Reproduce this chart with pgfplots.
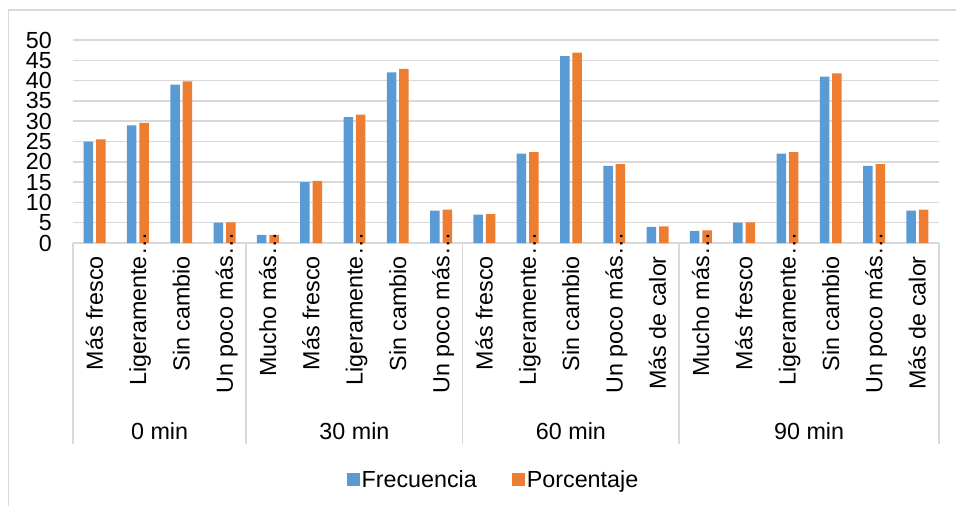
\documentclass[border=0pt]{standalone}
\usepackage{fontspec}
\setmainfont{Liberation Sans}
\usepackage{pgfplots}
\pgfplotsset{compat=1.18}

\definecolor{frec}{HTML}{5B9BD5}
\definecolor{porc}{HTML}{ED7D31}
\definecolor{gridgray}{HTML}{D9D9D9}
\newcommand{\chartfont}{\fontsize{23.3bp}{28bp}\selectfont}

\begin{document}
\begin{tikzpicture}
% page frame of the chart
\useasboundingbox (-73bp,-263bp) rectangle (883bp,243bp);
\draw[gridgray, line width=1.5bp] (-64.5bp,-280bp) -- (-64.5bp,233bp) -- (900bp,233bp);

\begin{axis}[
  at={(0,0)}, anchor=south west,
  scale only axis, width=866bp, height=203bp,
  xmin=-0.5, xmax=19.5, ymin=0, ymax=50,
  clip=false,
  ybar,
  bar width=9.5bp,
  axis line style={draw=none},
  major tick length=0pt,
  ytick={0,5,...,50},
  ymajorgrids,
  grid style={gridgray, line width=1.5bp},
  /pgf/number format/assume math mode=true,
  tick label style={font=\chartfont},
  yticklabel style={inner sep=0pt, xshift=-21bp, text height=16bp, text depth=0pt},
  xtick={0,...,19},
  xticklabels={
    Más fresco, Ligeramente, Sin cambio, Un poco más,
    Mucho más, Más fresco, Ligeramente, Sin cambio, Un poco más,
    Más fresco, Ligeramente, Sin cambio, Un poco más, Más de calor,
    Mucho más, Más fresco, Ligeramente, Sin cambio, Un poco más, Más de calor},
  xticklabel style={yshift=-13bp, rotate=90, anchor=east, inner sep=0pt,
    text height=16.5bp, text depth=0pt},
  legend columns=2,
  legend image code/.code={\fill[#1, draw=none] (0bp,-6.5bp) rectangle (13bp,6.5bp);},
  legend style={at={(axis description cs:0.4855,-1.167)}, anchor=center,
    draw=none, fill=none, font=\chartfont,
    /tikz/every even column/.append style={column sep=33bp}},
]
% Frecuencia
\addplot[fill=frec, draw=none, bar shift=-6.2bp] coordinates {
  (0,25) (1,29) (2,39) (3,5)
  (4,2) (5,15) (6,31) (7,42) (8,8)
  (9,7) (10,22) (11,46) (12,19) (13,4)
  (14,3) (15,5) (16,22) (17,41) (18,19) (19,8)};
% Porcentaje
\addplot[fill=porc, draw=none, bar shift=6.2bp] coordinates {
  (0,25.5) (1,29.6) (2,39.8) (3,5.1)
  (4,2.0) (5,15.3) (6,31.6) (7,42.9) (8,8.2)
  (9,7.1) (10,22.4) (11,46.9) (12,19.4) (13,4.1)
  (14,3.1) (15,5.1) (16,22.4) (17,41.8) (18,19.4) (19,8.2)};
\legend{Frecuencia, Porcentaje}

% ellipsis of the truncated category names, running on above the bars
\pgfplotsinvokeforeach{1,3,4,6,8,10,12,14,16,18}{
  \node[font=\chartfont, yshift=-13bp, rotate=90, anchor=west, inner sep=0pt,
    text height=16.5bp, text depth=0pt] at (axis cs:#1,0) {…};
}

% group separators of the category axis
\draw[gridgray, line width=1.5bp] (axis cs:-0.5,0) -- ++(0bp,-201bp);
\draw[gridgray, line width=1.5bp] (axis cs:3.5,0) -- ++(0bp,-201bp);
\draw[gridgray, line width=1.5bp] (axis cs:8.5,0) -- ++(0bp,-201bp);
\draw[gridgray, line width=1.5bp] (axis cs:13.5,0) -- ++(0bp,-201bp);
\draw[gridgray, line width=1.5bp] (axis cs:19.5,0) -- ++(0bp,-201bp);

% time groups
\node[font=\chartfont, yshift=-188bp] at (axis cs:1.5,0) {0 min};
\node[font=\chartfont, yshift=-188bp] at (axis cs:6,0) {30 min};
\node[font=\chartfont, yshift=-188bp] at (axis cs:11,0) {60 min};
\node[font=\chartfont, yshift=-188bp] at (axis cs:16.5,0) {90 min};
\end{axis}
\end{tikzpicture}
\end{document}
